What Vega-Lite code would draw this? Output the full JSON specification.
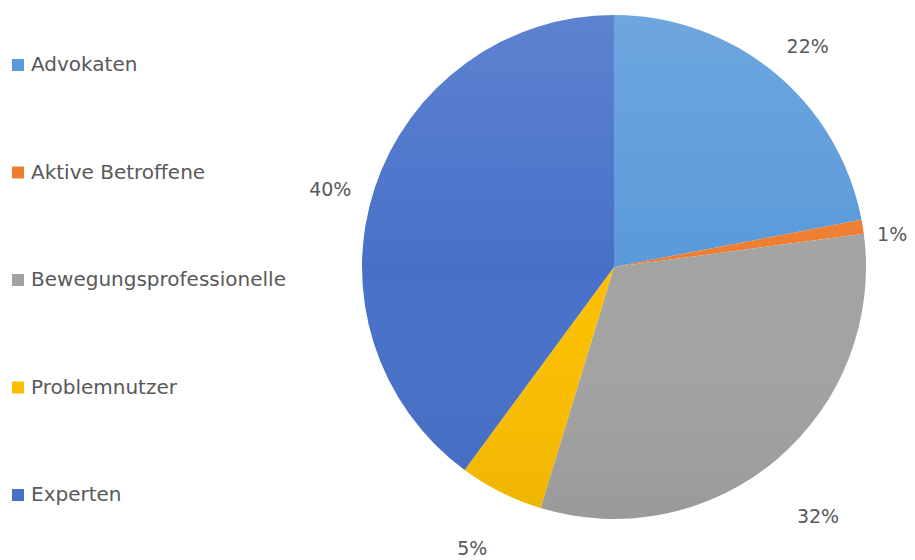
{
  "$schema": "https://vega.github.io/schema/vega-lite/v6.json",
  "width": 560,
  "height": 534,
  "autosize": {"type": "none"},
  "padding": {"left": 334, "top": 0, "right": 21, "bottom": 26},
  "background": "white",
  "config": {"view": {"stroke": null}, "font": "DejaVu Sans"},
  "data": {
    "values": [
      {"i": 1, "group": "Advokaten", "share": 0.22},
      {"i": 2, "group": "Aktive Betroffene", "share": 0.009},
      {"i": 3, "group": "Bewegungsprofessionelle", "share": 0.318},
      {"i": 4, "group": "Problemnutzer", "share": 0.054},
      {"i": 5, "group": "Experten", "share": 0.399}
    ]
  },
  "layer": [
    {
      "mark": {"type": "arc", "radius": 252},
      "encoding": {
        "theta": {"field": "share", "type": "quantitative", "stack": true, "scale": {"domain": [0, 1]}},
        "order": {"field": "i", "type": "quantitative"},
        "color": {
          "field": "group",
          "type": "nominal",
          "sort": ["Advokaten", "Aktive Betroffene", "Bewegungsprofessionelle", "Problemnutzer", "Experten"],
          "scale": {
            "domain": ["Advokaten", "Aktive Betroffene", "Bewegungsprofessionelle", "Problemnutzer", "Experten"],
            "range": ["#5A9ADA", "#EE7D30", "#A3A3A3", "#FCBF00", "#4771C9"]
          },
          "legend": {
            "orient": "none",
            "legendX": -326,
            "legendY": 55,
            "title": null,
            "symbolType": "square",
            "symbolSize": 144,
            "symbolStrokeWidth": 0,
            "labelFont": "DejaVu Sans",
            "labelFontSize": 20,
            "labelColor": "#595959",
            "labelOffset": 3,
            "rowPadding": 87.5,
            "labelLimit": 400
          }
        }
      }
    },
    {
      "transform": [{"aggregate": [{"op": "sum", "field": "share", "as": "total"}]}],
      "mark": {
        "type": "arc",
        "radius": 252,
        "theta": 0,
        "theta2": 6.2832,
        "color": {
          "gradient": "linear",
          "x1": 0, "y1": 0, "x2": 0, "y2": 1,
          "stops": [
            {"offset": 0, "color": "rgba(255,255,255,0.12)"},
            {"offset": 0.5, "color": "rgba(255,255,255,0)"},
            {"offset": 1, "color": "rgba(0,0,0,0.06)"}
          ]
        }
      },
      "encoding": {}
    },
    {
      "mark": {"type": "text", "radius": 293, "thetaOffset": 0.031, "fontSize": 19, "color": "#595959", "font": "DejaVu Sans"},
      "encoding": {
        "theta": {"field": "share", "type": "quantitative", "stack": true, "scale": {"domain": [0, 1]}},
        "order": {"field": "i", "type": "quantitative"},
        "text": {"condition": {"test": "datum.i != 1", "value": ""}, "field": "share", "type": "quantitative", "format": ".0%"}
      }
    },
    {
      "mark": {"type": "text", "radius": 280, "thetaOffset": 0.045, "fontSize": 19, "color": "#595959", "font": "DejaVu Sans"},
      "encoding": {
        "theta": {"field": "share", "type": "quantitative", "stack": true, "scale": {"domain": [0, 1]}},
        "order": {"field": "i", "type": "quantitative"},
        "text": {"condition": {"test": "datum.i != 2", "value": ""}, "field": "share", "type": "quantitative", "format": ".0%"}
      }
    },
    {
      "mark": {"type": "text", "radius": 323, "thetaOffset": 0.02, "fontSize": 19, "color": "#595959", "font": "DejaVu Sans"},
      "encoding": {
        "theta": {"field": "share", "type": "quantitative", "stack": true, "scale": {"domain": [0, 1]}},
        "order": {"field": "i", "type": "quantitative"},
        "text": {"condition": {"test": "datum.i != 3", "value": ""}, "field": "share", "type": "quantitative", "format": ".0%"}
      }
    },
    {
      "mark": {"type": "text", "radius": 316, "fontSize": 19, "color": "#595959", "font": "DejaVu Sans"},
      "encoding": {
        "theta": {"field": "share", "type": "quantitative", "stack": true, "scale": {"domain": [0, 1]}},
        "order": {"field": "i", "type": "quantitative"},
        "text": {"condition": {"test": "datum.i != 4", "value": ""}, "field": "share", "type": "quantitative", "format": ".0%"}
      }
    },
    {
      "mark": {"type": "text", "radius": 294, "thetaOffset": -0.052, "fontSize": 19, "color": "#595959", "font": "DejaVu Sans"},
      "encoding": {
        "theta": {"field": "share", "type": "quantitative", "stack": true, "scale": {"domain": [0, 1]}},
        "order": {"field": "i", "type": "quantitative"},
        "text": {"condition": {"test": "datum.i != 5", "value": ""}, "field": "share", "type": "quantitative", "format": ".0%"}
      }
    }
  ]
}
